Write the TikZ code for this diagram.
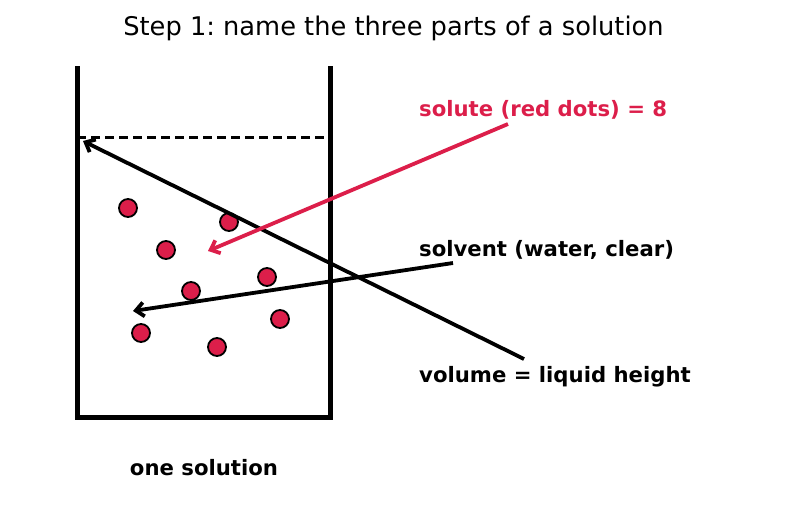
\documentclass[tikz,border=0pt]{standalone}
\usepackage{fontspec}
\setmainfont{DejaVu Sans}
\usepackage{xcolor}
\definecolor{cSolute}{HTML}{DC1E4A}
\usetikzlibrary{positioning,arrows.meta}
\tikzset{
  beaker-wall/.style={line width=5pt,line join=miter},
  level-line/.style={line width=3pt,dash pattern=on 9pt off 5pt},
  node-dot/.style={circle,draw=black,line width=1.8pt,fill=cSolute,
    minimum size=18pt,inner sep=0pt},
  node-label/.style={anchor=west,inner sep=0pt,
    font=\fontsize{21.2}{24}\selectfont\bfseries},
  arrow/.style={-{Straight Barb[length=8pt,width=14pt]},line width=3.8pt,draw=black},
  arrow-solute/.style={arrow,draw=cSolute},
}

\begin{document}
\frenchspacing
\begin{tikzpicture}[x=1pt,y=-1pt]
  \useasboundingbox (0,0) rectangle (787,512);
  % title
  \node[font=\fontsize{25.7}{30}\selectfont] (title) at (393.5,28) {Step 1: name the three parts of a solution};
  % beaker and liquid level
  \draw[beaker-wall] (77,66) -- (77,417) -- (330,417) -- (330,66);
  \draw[level-line] (77,137) -- (330,137);
  \node[font=\fontsize{21.2}{24}\selectfont\bfseries] (beaker) at (204,468) {one solution};
  % solute particles
  \foreach \x/\y [count=\i] in {128/208,229/222,166/250,191/291,267/277,280/319,141/333,217/347}
    \node[node-dot] (dot\i) at (\x,\y) {};
  % labels
  \node[node-label,text=cSolute] (solute) at (419,110) {solute (red dots) = 8};
  \node[node-label] (solvent) at (419,250) {solvent (water, clear)};
  \node[node-label] (volume) at (419,377) {volume = liquid height};
  % arrow ends
  \coordinate (solute-from) at (508,124);
  \coordinate (solute-to) at (208,251);
  \coordinate (solvent-from) at (453,263);
  \coordinate (solvent-to) at (133,311);
  \coordinate (volume-from) at (524,359);
  \coordinate (volume-to) at (83,141);
  \draw[arrow] (volume-from) -- (volume-to);
  \draw[arrow] (solvent-from) -- (solvent-to);
  \draw[arrow-solute] (solute-from) -- (solute-to);
\end{tikzpicture}
\end{document}
